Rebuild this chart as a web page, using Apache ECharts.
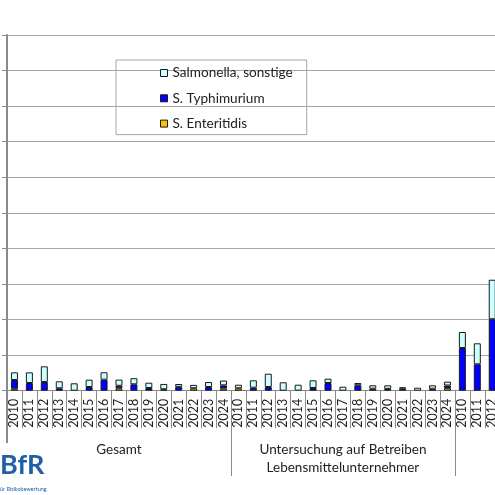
<!DOCTYPE html>
<html><head><meta charset="utf-8">
<script src="https://cdn.jsdelivr.net/npm/echarts@6/dist/echarts.min.js"></script>
<style>html,body{margin:0;padding:0;background:#fff}#c{width:495px;height:495px}</style>
</head><body><div id="c"></div>
<script>
// Categories (years), three groups; third group only partly visible in the crop
const years = ['2010','2011','2012','2013','2014','2015','2016','2017','2018','2019','2020','2021','2022','2023','2024'];
const categories = years.concat(years, ['2010','2011','2012']);
const groupLabels = ['Gesamt', 'Untersuchung auf Betreiben\nLebensmittelunternehmer'];
const groupLabelIndex = [7, 22];
const groupStartIndex = [15, 30];

// Values in %; null = no share
const enteritidis = [
  0.28, null, null, null, null, null, null, 0.34, null, null, null, null, 0.34, null, 0.30,
  0.34, null, null, null, null, null, null, null, null, null, null, null, null, null, 0.36,
  null, null, null
];
const typhimurium = [
  1.22, 1.08, 1.22, 0.34, null, 0.52, 1.55, 0.35, 0.90, 0.38, 0.20, 0.54, null, 0.52, 0.45,
  null, 0.42, 0.52, null, null, 0.38, 1.08, null, 0.76, 0.28, 0.25, 0.30, null, 0.28, 0.37,
  6.00, 3.71, 10.04
];
const sonstige = [
  1.08, 1.50, 2.21, 0.98, 1.04, 1.03, 1.04, 0.87, 0.86, 0.74, 0.75, 0.40, 0.48, 0.70, 0.68,
  0.50, 1.04, 1.87, 1.18, 0.84, 1.08, 0.61, 0.56, 0.32, 0.48, 0.50, 0.18, 0.42, 0.48, 0.54,
  2.25, 2.95, 5.56
];
const yMin = 0, yMax = 50, yInterval = 5;

const groupAxisData = categories.map((c, i) => {
  const k = groupLabelIndex.indexOf(i);
  return k >= 0 ? groupLabels[k] : '';
});

const chart = echarts.init(document.getElementById('c'));
const FONT = 'Lato, "Open Sans", sans-serif';
const AX = '#8a8a8a';
const barBorder = { borderColor: '#1a1a1a', borderWidth: 1 };

chart.setOption({
  animation: false,
  backgroundColor: '#fff',
  grid: { left: 7, top: 35, width: 492.7, bottom: 104.3, containLabel: false, outerBoundsMode: 'none' },
  legend: {
    orient: 'vertical',
    left: 116, top: 60,
    padding: [5, 14, 3, 44],
    itemGap: 9.3,
    itemWidth: 7, itemHeight: 7,
    borderColor: '#a6a6a6', borderWidth: 1,
    icon: 'rect',
    itemStyle: { borderColor: '#1a1a1a', borderWidth: 1 },
    textStyle: { fontFamily: FONT, fontSize: 13.6, lineHeight: 16, color: '#222' },
    data: ['Salmonella, sonstige', 'S. Typhimurium', 'S. Enteritidis']
  },
  xAxis: [
    {
      type: 'category', data: categories, position: 'bottom',
      axisLine: { lineStyle: { color: AX, width: 1 } },
      axisTick: { show: true, interval: 0, length: 37.6, lineStyle: { color: AX } },
      axisLabel: { interval: 0, rotate: 90, margin: 8, fontFamily: FONT, fontSize: 12.5, color: '#222' },
      splitLine: { show: false }
    },
    {
      type: 'category', data: groupAxisData, position: 'bottom',
      axisLine: { show: false },
      axisTick: { show: true, interval: (i) => groupStartIndex.indexOf(i) >= 0, length: 85.3, lineStyle: { color: AX } },
      axisLabel: { interval: 0, margin: 50.5, fontFamily: FONT, fontSize: 13.5, lineHeight: 17.5, color: '#222', verticalAlign: 'top' },
      splitLine: { show: false }
    },
    {
      type: 'category', data: categories, position: 'bottom',
      axisLine: { show: false },
      axisTick: { show: true, interval: (i) => i === 0, length: 52.3, lineStyle: { color: AX, width: 2 } },
      axisLabel: { show: false },
      splitLine: { show: false }
    }
  ],
  yAxis: {
    type: 'value', min: yMin, max: yMax, interval: yInterval,
    axisLine: { show: true, lineStyle: { color: AX, width: 2 } },
    axisTick: { show: true, length: 5, lineStyle: { color: AX } },
    axisLabel: { show: false },
    splitLine: { lineStyle: { color: '#a6a6a6', width: 1 } }
  },
  series: [
    { name: 'S. Enteritidis', type: 'bar', stack: 's', barWidth: 7, data: enteritidis, itemStyle: Object.assign({ color: '#FFC000' }, barBorder) },
    { name: 'S. Typhimurium', type: 'bar', stack: 's', barWidth: 7, data: typhimurium, itemStyle: Object.assign({ color: '#0000FF' }, barBorder) },
    { name: 'Salmonella, sonstige', type: 'bar', stack: 's', barWidth: 7, data: sonstige, itemStyle: Object.assign({ color: '#CCFFFF' }, barBorder) }
  ],
  graphic: [
    { type: 'text', left: 0, top: 452, style: { text: 'BfR', fontFamily: FONT, fontWeight: 'bold', fontSize: 27, fill: '#1f5fa6' } },
    { type: 'text', left: -2, top: 486, style: { text: 'für Risikobewertung', fontFamily: FONT, fontSize: 5.5, fill: '#1f5fa6' } }
  ]
});
</script></body></html>
